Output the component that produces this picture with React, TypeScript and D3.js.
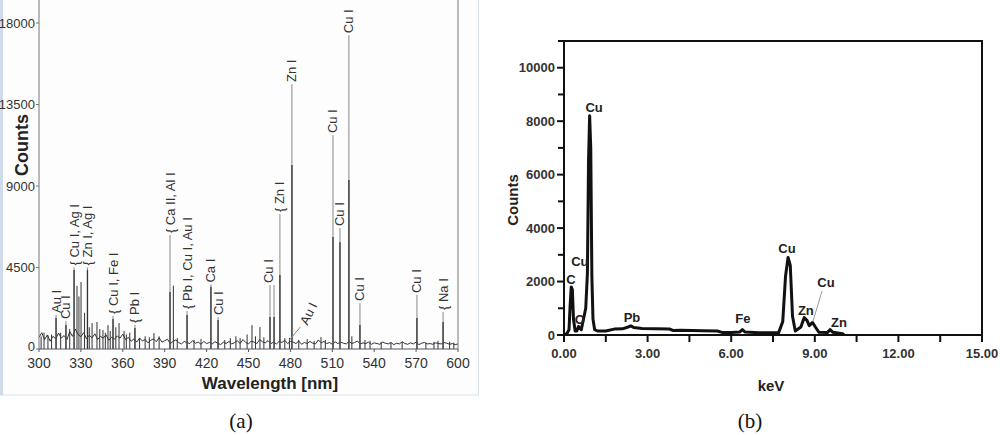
import React from "react";
import * as d3 from "d3";

// ---- (a) LIBS spectrum ----
// labelled lines: wavelength, peak counts, top of the leader line (counts), label
const peakWl = [312.2, 319.3, 325.1, 334.7, 353.0, 368.7, 393.8, 406.0, 423.1, 428.2, 465.4, 468.3, 472.5, 481.1, 510.5, 515.5, 521.9, 529.8, 570.6, 589.3];
const peakCounts = [1710, 1320, 4360, 4360, 1660, 1160, 3150, 1880, 3420, 1600, 1770, 1770, 4085, 10160, 6180, 5900, 9330, 1320, 1710, 1490];
const leaderTop = [1880, 1540, 4500, 4500, 1820, 1330, 6290, 2100, 3560, 1760, 3530, 3530, 7450, 14630, 11810, 6680, 17330, 2540, 2980, 2040];
const peakLabels = ["Au I", "Cu I", "{ Cu I, Ag I", "{ Zn I, Ag I", "{ Cu I, Fe I", "{ Pb I", "{ Ca II, Al I", "{ Pb I, Cu I, Au I", "Ca I", "Cu I", "Cu I", "", "{ Zn I", "Zn I", "Cu I", "Cu I", "Cu I", "Cu I", "Cu I", "{ Na I"];

// unlabelled lines
const minorWl = [
  301.5, 303.6, 306.4, 309.0, 315.5, 322.0, 327.2, 328.6, 330.1, 332.6, 336.0, 338.0, 341.5, 343.5, 345.8, 347.5, 349.4, 351.0,
  355.0, 357.3, 360.9, 362.5, 365.0, 372.0, 376.0, 379.0, 382.3, 386.0, 396.2, 399.0, 411.0, 416.0, 433.0, 437.0, 441.0, 444.0,
  449.0, 452.5, 455.0, 458.2, 461.0, 476.0, 479.3, 486.0, 492.0, 497.0, 501.9, 505.0, 524.0, 533.4, 537.0, 545.0, 552.0, 560.0,
  577.0, 582.8, 585.7, 594.0, 597.0,
];
const minorCounts = [
  700, 900, 750, 800, 900, 1100, 3480, 2900, 3700, 2000, 1200, 1430, 1490, 1100, 1050, 900, 1320, 1000,
  1200, 1430, 1000, 800, 900, 600, 700, 650, 880, 700, 3500, 600, 500, 550, 500, 600, 700, 600,
  800, 1320, 700, 1210, 650, 600, 620, 500, 550, 450, 660, 500, 700, 500, 450, 400, 350, 400,
  350, 400, 450, 400, 350,
];

// baseline every 2 nm from 300 to 600
const baseCounts = [
  650, 900, 520, 780, 430, 700, 560, 880, 610, 740, 520, 960, 700, 1100, 800, 680, 900, 560, 760, 620, 840, 520, 700, 600, 780, 480, 650, 540, 720, 600, 820,
  520, 640, 430, 560, 380, 600, 450, 520, 340, 480, 560, 400, 620, 380, 460, 540, 300, 420, 500, 360, 280, 420, 350, 300, 460, 320, 380, 260, 420, 300,
  360, 280, 400, 320, 240, 380, 300, 420, 280, 350, 460, 300, 520, 360, 280, 440, 380, 300, 520, 400, 340, 460, 300, 380, 280, 420, 360, 480, 300, 420,
  380, 300, 440, 260, 360, 300, 420, 320, 280, 500, 340, 420, 300, 360, 260, 400, 300, 380, 320, 280, 420, 300, 360, 440, 280, 340, 300, 380, 260, 340,
  300, 260, 380, 320, 280, 360, 240, 320, 280, 400, 300, 260, 340, 280, 380, 240, 320, 360, 280, 300, 260, 340, 300, 280, 360, 320, 260, 300, 240, 280,
];
const aYTicks = [0, 4500, 9000, 13500, 18000];
const aXTicks = [300, 330, 360, 390, 420, 450, 480, 510, 540, 570, 600];

// ---- (b) EDS spectrum ----
const edsKeV = [0.0, 0.1, 0.18, 0.22, 0.26, 0.3, 0.34, 0.4, 0.46, 0.52, 0.57, 0.62, 0.7, 0.78, 0.84, 0.88, 0.92, 0.96, 1.0, 1.04, 1.1, 1.2, 1.5, 1.8, 2.1, 2.3, 2.4, 2.5, 2.8, 3.3, 3.8, 3.9, 4.2, 5.0, 5.5, 5.7, 6.0, 6.3, 6.4, 6.5, 7.0, 7.7, 7.85, 7.95, 8.04, 8.12, 8.2, 8.3, 8.5, 8.62, 8.72, 8.8, 8.92, 9.02, 9.15, 9.45, 9.55, 9.65, 10.0, 10.05];
const edsCounts = [0, 50, 200, 1100, 1800, 1700, 600, 150, 150, 320, 250, 200, 600, 1000, 2300, 6500, 8200, 7000, 2200, 600, 200, 150, 150, 220, 230, 300, 340, 280, 240, 230, 220, 170, 180, 160, 150, 90, 90, 110, 200, 110, 80, 80, 500, 2200, 2900, 2600, 700, 150, 300, 650, 550, 350, 470, 300, 100, 90, 200, 100, 50, 0];
const edsLabels = ["C", "Cu", "O", "Cu", "Pb", "Fe", "Cu", "Zn", "Cu", "Zn"];
const edsLabelKeV = [0.25, 0.57, 0.57, 1.08, 2.44, 6.42, 8.0, 8.68, 9.4, 9.87];
const edsLabelCounts = [1900, 2580, 410, 8350, 490, 450, 3070, 750, 1800, 300];
const bYMajor = [0, 2000, 4000, 6000, 8000, 10000];
const bYMinor = [1000, 3000, 5000, 7000, 9000, 11000];
const bXMajor = [0, 3, 6, 9, 12, 15];
const bXMinor = [1.5, 4.5, 7.5, 10.5, 13.5];

const font = "Arial, 'Liberation Sans', sans-serif";

export default function App() {
  const xA = d3.scaleLinear().domain([300, 600]).range([39, 458]);
  const yA = d3.scaleLinear().domain([0, 18000]).range([349, 23]);
  const xB = d3.scaleLinear().domain([0, 15]).range([564, 982]);
  const yB = d3.scaleLinear().domain([0, 11000]).range([335, 41]);

  const basePath = d3
    .line<number>()
    .x((d, i) => xA(300 + i * 2))
    .y((d) => yA(d))(baseCounts);

  const edsPath = d3
    .line<number>()
    .x((d) => xB(d))
    .y((d, i) => yB(edsCounts[i]))(edsKeV);

  const auX = xA(479.3);

  return (
    <svg width={1000} height={435} style={{ position: "absolute", left: 0, top: 0, background: "#fff" }}>
      {/* panel (a) frame, like a screenshot */}
      <rect x={0.5} y={-1} width={478} height={396} fill="#fdfdfd" stroke="#dbe3ec" />
      <rect x={0} y={0} width={3} height={395} fill="#cfdbe8" />

      {/* baseline noise */}
      <path d={basePath || ""} fill="none" stroke="#333" strokeWidth={1} />
      {minorWl.map((w, i) => (
        <line key={"m" + i} x1={xA(w)} x2={xA(w)} y1={yA(0)} y2={yA(minorCounts[i])} stroke="#333" strokeWidth={1} />
      ))}
      {peakWl.map((w, i) => (
        <g key={"p" + i}>
          <line x1={xA(w)} x2={xA(w)} y1={yA(0)} y2={yA(leaderTop[i])} stroke="#888" strokeWidth={1} />
          <line x1={xA(w)} x2={xA(w)} y1={yA(0)} y2={yA(peakCounts[i])} stroke="#333" strokeWidth={1.3} />
          {peakLabels[i] && (
            <text
              transform={`translate(${xA(w) - (i === 10 ? 2 : 0)},${yA(leaderTop[i]) - 2}) rotate(-90)`}
              fontFamily={font}
              fontSize={13}
              fill="#333"
              dominantBaseline="central"
            >
              {peakLabels[i]}
            </text>
          )}
        </g>
      ))}
      {/* slanted Au I label */}
      <line x1={auX} y1={yA(500)} x2={auX + 11} y2={yA(500) - 13} stroke="#888" strokeWidth={1} />
      <text transform={`translate(${auX + 14},${yA(500) - 16}) rotate(-64)`} fontFamily={font} fontSize={13} fill="#333" dominantBaseline="central">
        Au I
      </text>

      {/* axes (a) */}
      <line x1={39} x2={39} y1={0} y2={349} stroke="#777" />
      <line x1={458} x2={458} y1={0} y2={349} stroke="#777" />
      <line x1={39} x2={458} y1={349} y2={349} stroke="#556" strokeWidth={1.2} />
      {aYTicks.map((t) => (
        <g key={"ay" + t}>
          <line x1={36} x2={39} y1={yA(t)} y2={yA(t)} stroke="#777" />
          <text x={35} y={yA(t) - (t === 0 ? 3 : 0)} textAnchor="end" dominantBaseline="central" fontFamily={font} fontSize={13} fill="#333">
            {t}
          </text>
        </g>
      ))}
      {aXTicks.map((t) => (
        <g key={"ax" + t}>
          <line x1={xA(t)} x2={xA(t)} y1={349} y2={352} stroke="#556" />
          <text x={xA(t)} y={368} textAnchor="middle" fontFamily={font} fontSize={14} fill="#333">
            {t}
          </text>
        </g>
      ))}
      <text transform="translate(22,145) rotate(-90)" textAnchor="middle" dominantBaseline="central" fontFamily={font} fontSize={18} fontWeight="bold" fill="#222">
        Counts
      </text>
      <text x={270} y={389} textAnchor="middle" fontFamily={font} fontSize={17} fontWeight="bold" fill="#222">
        Wavelength [nm]
      </text>

      {/* panel (b) */}
      <path d={edsPath || ""} fill="none" stroke="#111" strokeWidth={3} strokeLinejoin="round" />
      <line x1={xB(9.26)} y1={yB(1650)} x2={xB(8.93)} y2={yB(490)} stroke="#999" strokeWidth={1} />
      {edsLabels.map((l, i) => (
        <text key={"el" + i} x={xB(edsLabelKeV[i])} y={yB(edsLabelCounts[i])} textAnchor="middle" fontFamily={font} fontSize={13} fontWeight="bold" fill="#222">
          {l}
        </text>
      ))}
      <rect x={564} y={41} width={418} height={294} fill="none" stroke="#111" strokeWidth={2} />
      {bYMajor.map((t) => (
        <g key={"by" + t}>
          <line x1={557} x2={564} y1={yB(t)} y2={yB(t)} stroke="#111" strokeWidth={2} />
          <text x={555} y={yB(t)} textAnchor="end" dominantBaseline="central" fontFamily={font} fontSize={13} fontWeight="bold" fill="#333">
            {t}
          </text>
        </g>
      ))}
      {bYMinor.map((t) => (
        <line key={"bym" + t} x1={558} x2={564} y1={yB(t)} y2={yB(t)} stroke="#111" strokeWidth={2} />
      ))}
      {bXMajor.map((t) => (
        <g key={"bx" + t}>
          <line x1={xB(t)} x2={xB(t)} y1={335} y2={342} stroke="#111" strokeWidth={2} />
          <text x={xB(t)} y={358} textAnchor="middle" fontFamily={font} fontSize={13} fontWeight="bold" fill="#333">
            {t.toFixed(2)}
          </text>
        </g>
      ))}
      {bXMinor.map((t) => (
        <line key={"bxm" + t} x1={xB(t)} x2={xB(t)} y1={335} y2={342} stroke="#111" strokeWidth={2} />
      ))}
      <text transform="translate(512,200) rotate(-90)" textAnchor="middle" dominantBaseline="central" fontFamily={font} fontSize={15} fontWeight="bold" fill="#222">
        Counts
      </text>
      <text x={771} y={391} textAnchor="middle" fontFamily={font} fontSize={15} fontWeight="bold" fill="#222">
        keV
      </text>

      {/* captions */}
      <text x={241} y={428} textAnchor="middle" fontFamily="'Liberation Serif', 'Times New Roman', serif" fontSize={21} fill="#111">
        (a)
      </text>
      <text x={750} y={428} textAnchor="middle" fontFamily="'Liberation Serif', 'Times New Roman', serif" fontSize={21} fill="#111">
        (b)
      </text>
    </svg>
  );
}
